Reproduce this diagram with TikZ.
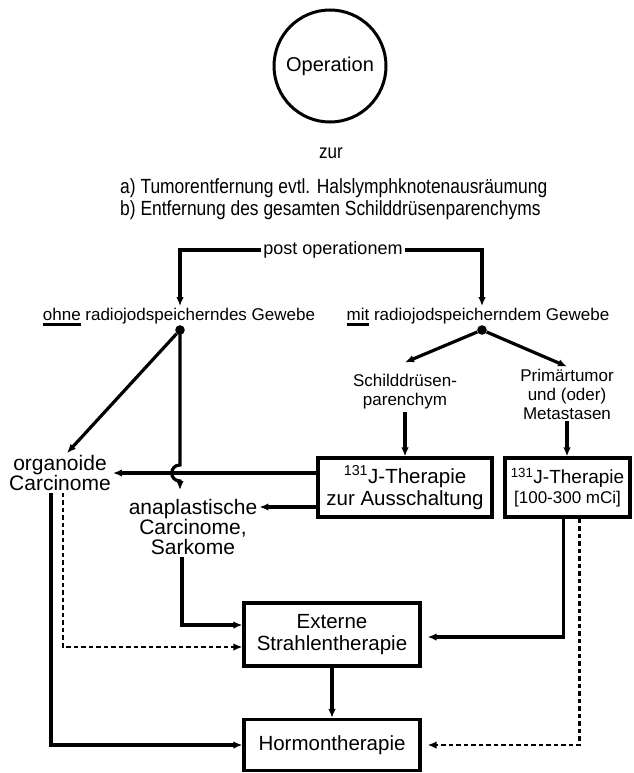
\documentclass[tikz,border=0pt]{standalone}
\usepackage{fontspec}
\setmainfont{Liberation Sans}
\newfontfamily\condfont[FakeStretch=0.85]{Liberation Sans}
\usetikzlibrary{arrows.meta, positioning, calc}
\newcommand{\thickul}[1]{\setbox0=\hbox{#1}\rlap{\rule[-5pt]{\wd0}{2.8pt}}\box0{}}
\tikzset{
    flow/.style={
      line width=3.2pt, %solid connector
      -{Latex[length=9pt,width=7.5pt]},
    },
    dflow/.style={flow, line width=2.2pt, dash pattern=on 4.5pt off 3pt},
    stepbox/.style={draw, line width=3.2pt, inner sep=0pt, align=center,
      font=\fontsize{20.5}{22}\selectfont},
    lbl/.style={align=center, inner sep=2pt, font=\fontsize{17}{19}\selectfont},
    wlbl/.style={align=center, inner sep=2pt, font=\fontsize{21}{20}\selectfont},
  }
\begin{document}
\begin{tikzpicture}[x=1pt, y=-1pt]
  \useasboundingbox (0,0) rectangle (633,773);
  % top part
  \node[circle, draw, line width=3pt, minimum size=112pt, font=\fontsize{20}{22}\selectfont] (op) at (330,66) {Operation};
  \node[lbl, font=\condfont\fontsize{20}{22}\selectfont] (zur) at (331,153) {zur};
  \node[lbl, align=left, anchor=west, font=\condfont\fontsize{20.5}{22}\selectfont] (ziel) at (118,199)
    {a) Tumorentfernung evtl. Halslymphknotenausräumung\\b) Entfernung des gesamten Schilddrüsenparenchyms};
  \node[lbl, font=\fontsize{18}{20}\selectfont] (post) at (333,250) {post operationem};
  \node[lbl] (ohne) at (179,317) {\thickul{ohne} radiojodspeicherndes Gewebe};
  \node[lbl] (mit) at (478,317) {\thickul{mit} radiojodspeicherndem Gewebe};
  \coordinate (ldot) at (180,330);
  \coordinate (rdot) at (482,330);
  % middle part
  \node[lbl] (schild) at (405,392) {Schilddrüsen-\\parenchym};
  \node[lbl] (prim) at (567,394) {Primärtumor\\und (oder)\\Metastasen};
  \node[stepbox, minimum width=174pt, minimum height=59pt] (box1) at (405,487.5)
    {\textsuperscript{131}J-Therapie\\zur Ausschaltung};
  \node[stepbox, minimum width=125pt, minimum height=59pt, font=\fontsize{19}{20}\selectfont] (box2) at (567.5,487.5)
    {\textsuperscript{131}J-Therapie\\{\fontsize{17}{20}\selectfont[100-300 mCi]}};
  \node[wlbl] (orgcar) at (60,473) {organoide\\Carcinome};
  \node[wlbl] (ana) at (193,527) {anaplastische\\Carcinome,\\Sarkome};
  % bottom part
  \node[stepbox, minimum width=176pt, minimum height=63pt] (ext) at (332,634.5) {Externe\\Strahlentherapie};
  \node[stepbox, minimum width=176pt, minimum height=51pt] (hormon) at (332,745) {Hormontherapie};

  \fill (ldot) circle[radius=4.8pt];
  \fill (rdot) circle[radius=4.8pt];
  \draw[flow] (post.west) -| (ldot |- ohne.north);
  \draw[flow] (post.east) -| (rdot |- mit.north);
  \draw[flow, shorten <=5pt] (ldot) -- ([xshift=7pt]orgcar.north);
  \coordinate (hop) at (ldot |- orgcar);
  \coordinate (anatop) at (ldot |- ana.north);
  \draw[flow] (ldot) -- ([yshift=8pt]hop) .. controls +(-11,0) and +(-11,0) .. ([yshift=-8pt]hop) -- ([yshift=7pt]anatop);
  \draw[flow, shorten <=5pt] (rdot) -- ([yshift=10pt]schild.north);
  \draw[flow, shorten <=5pt] (rdot) -- (prim.north);
  \draw[flow] (schild) -- (box1);
  \draw[flow] (prim) -- (prim |- box2.north);
  \draw[flow] (box1.west |- orgcar) -- (orgcar);
  \coordinate (b1low) at ([yshift=-19.5pt]box1.west);
  \draw[flow] (b1low) -- (b1low -| ana.east);
  \draw[flow] ([xshift=-11pt]ana.south) |- ([yshift=9.5pt]ext.west);
  \draw[dflow] ([xshift=3pt]orgcar.south) |- ([yshift=-12.5pt]ext.west);
  \draw[flow] ([xshift=-9pt]orgcar.south) |- (hormon.west);
  \draw[flow, shorten >=6pt] ([xshift=-4pt]box2.south) |- ([yshift=-2.5pt]ext.east);
  \draw[dflow, shorten >=6pt] ([xshift=12pt]box2.south) |- (hormon.east);
  \draw[flow] (ext) -- (hormon);
\end{tikzpicture}
\end{document}
